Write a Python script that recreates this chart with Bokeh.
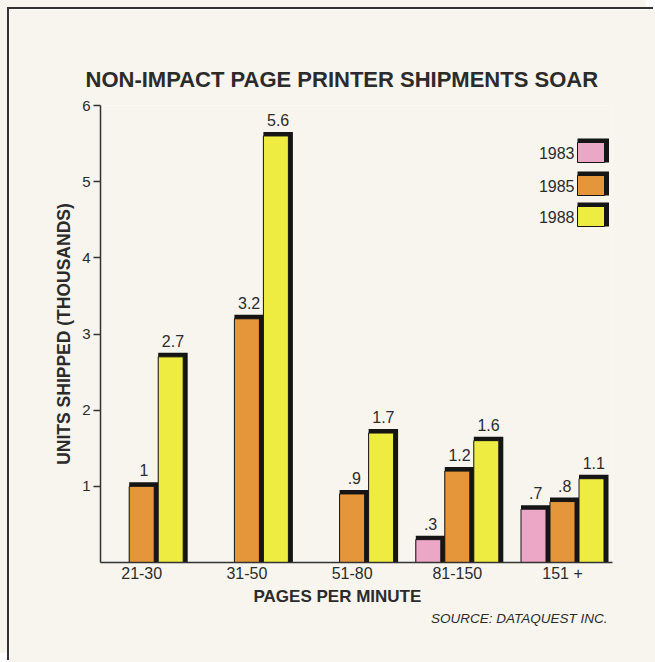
from bokeh.plotting import figure
from bokeh.models import ColumnDataSource, FixedTicker, Range1d, Title, InlineStyleSheet
from bokeh.core.properties import value
from bokeh.embed import file_html
from bokeh.resources import INLINE

# ---------------- data ----------------
categories = ["21-30", "31-50", "51-80", "81-150", "151 +"]
years = ["1983", "1985", "1988"]
units_1983 = [None, None, None, 0.3, 0.7]
units_1985 = [1.0, 3.2, 0.9, 1.2, 0.8]
units_1988 = [2.7, 5.6, 1.7, 1.6, 1.1]
y_ticks = [1, 2, 3, 4, 5, 6]

# ---------------- style / layout ----------------
FONT = "Liberation Sans"
BG = "#f7f5ee"
INK = "#2b2b2b"
COLORS = {"1983": "#eca6c6", "1985": "#e6963a", "1988": "#eeec40"}

PX_X = 105.2          # pixels per category step
PX_Y = 457.0 / 6.0    # pixels per unit (thousands)
SLOT = 29.0 / PX_X
FILL_W = 25.0 / PX_X
SH_X = 4.5 / PX_X
SH_Y = 4.0 / PX_Y

p = figure(width=646, height=653,
           x_range=Range1d(-41.2 / PX_X, 470.8 / PX_X), y_range=Range1d(0, 6),
           output_backend="svg", toolbar_location=None,
           min_border_left=91, min_border_top=96, min_border_right=43, min_border_bottom=100)
# page-frame rule along the left and top edges (cream outside it)
p.styles = {
    "margin-left": "9px", "margin-top": "9px",
    "box-shadow": "-2px -2px 0 0 #333333, -9px -9px 0 0 " + BG,
    "overflow": "hidden",
}
p.stylesheets = [InlineStyleSheet(css=(
    ":host { overflow: hidden !important; }\n"
    "* { scrollbar-width: none !important; }\n"
    "::-webkit-scrollbar { display: none !important; width: 0 !important; }"))]
p.background_fill_color = BG
p.border_fill_color = BG
p.outline_line_color = None
p.xgrid.grid_line_color = None
p.ygrid.grid_line_color = None

# title
p.title.text = "NON-IMPACT PAGE PRINTER SHIPMENTS SOAR"
p.title.text_font = FONT
p.title.text_font_size = "22px"
p.title.text_font_style = "bold"
p.title.text_color = INK
p.title.align = "left"
p.title.offset = -15
p.title.standoff = 28

# bars
series = [("1983", units_1983), ("1985", units_1985), ("1988", units_1988)]
for k, (yr, vals) in enumerate(series):
    xs, tops = [], []
    for i, v in enumerate(vals):
        if v is None:
            continue
        xs.append(i + (k - 1) * SLOT - FILL_W / 2)
        tops.append(v)
    left = xs
    right = [x + FILL_W for x in xs]
    src = ColumnDataSource(dict(
        left=left, right=right, top=tops, bottom=[0] * len(xs),
        sright=[r + SH_X for r in right], stop=[t + SH_Y for t in tops],
        lx=[l + (FILL_W + SH_X) / 2 for l in left],
        lab=[("%g" % t).lstrip("0") for t in tops]))
    p.quad(left="left", right="sright", top="stop", bottom="bottom", source=src,
           fill_color="#151515", line_color=None)
    p.quad(left="left", right="right", top="top", bottom="bottom", source=src,
           fill_color=COLORS[yr], line_color="#151515", line_width=1)
    p.text(x="lx", y="top", text="lab", source=src, text_align="center",
           text_baseline="alphabetic", y_offset=-16, text_font=value(FONT),
           text_font_size="16px", text_color=INK)

# legend (drawn by hand: label on the left of the swatch)
LEG_BOX_L = (577 - 141.2) / PX_X
LEG_TXT_R = (574 - 141.2) / PX_X
LEG_BOX_W = 27.0 / PX_X
LEG_BOX_H = 20.0 / PX_Y
leg_rows = [(562 - py) / PX_Y for py in (152, 185, 216)]
leg = ColumnDataSource(dict(
    left=[LEG_BOX_L] * 3, right=[LEG_BOX_L + LEG_BOX_W] * 3,
    sright=[LEG_BOX_L + LEG_BOX_W + SH_X] * 3,
    top=[y + LEG_BOX_H / 2 for y in leg_rows],
    stop=[y + LEG_BOX_H / 2 + SH_Y for y in leg_rows],
    bottom=[y - LEG_BOX_H / 2 for y in leg_rows],
    tx=[LEG_TXT_R] * 3, ty=leg_rows, lab=years,
    color=[COLORS[y] for y in years]))
p.quad(left="left", right="sright", top="stop", bottom="bottom", source=leg,
       fill_color="#151515", line_color=None)
p.quad(left="left", right="right", top="top", bottom="bottom", source=leg,
       fill_color="color", line_color="#151515", line_width=1)
p.text(x="tx", y="ty", text="lab", source=leg, text_align="right",
       text_baseline="middle", text_font=value(FONT), text_font_size="16px",
       text_color=INK)

# axes
for ax in (p.xaxis[0], p.yaxis[0]):
    ax.axis_line_color = "#333333"
    ax.axis_line_width = 1.5
    ax.major_label_text_font = FONT
    ax.major_label_text_color = INK
    ax.minor_tick_line_color = None

p.yaxis.ticker = FixedTicker(ticks=y_ticks)
p.yaxis.major_tick_out = 7
p.yaxis.major_tick_in = 0
p.yaxis.major_tick_line_color = "#333333"
p.yaxis.major_tick_line_width = 1.5
p.yaxis.major_label_text_font_size = "15px"
p.yaxis.major_label_standoff = 3
p.yaxis.axis_label = "UNITS SHIPPED (THOUSANDS)"
p.yaxis.axis_label_text_font = FONT
p.yaxis.axis_label_text_font_size = "17.5px"
p.yaxis.axis_label_text_font_style = "bold"
p.yaxis.axis_label_text_color = INK
p.yaxis.axis_label_standoff = 5

p.xaxis.ticker = FixedTicker(ticks=list(range(len(categories))))
p.xaxis.major_label_overrides = {i: c for i, c in enumerate(categories)}
p.xaxis.major_tick_line_color = None
p.xaxis.major_tick_out = 0
p.xaxis.major_tick_in = 0
p.xaxis.major_label_text_font_size = "16px"
p.xaxis.major_label_standoff = 2

p.add_layout(Title(text="PAGES PER MINUTE", text_font=FONT, text_font_size="17px",
                   text_font_style="bold", text_color=INK, align="left", offset=153,
                   standoff=1), "below")
p.add_layout(Title(text="SOURCE: DATAQUEST INC.", text_font=FONT, text_font_size="13.5px",
                   text_font_style="italic", text_color=INK, align="right", offset=5,
                   standoff=4), "below")

open("out.html", "w").write(file_html(p, INLINE))
